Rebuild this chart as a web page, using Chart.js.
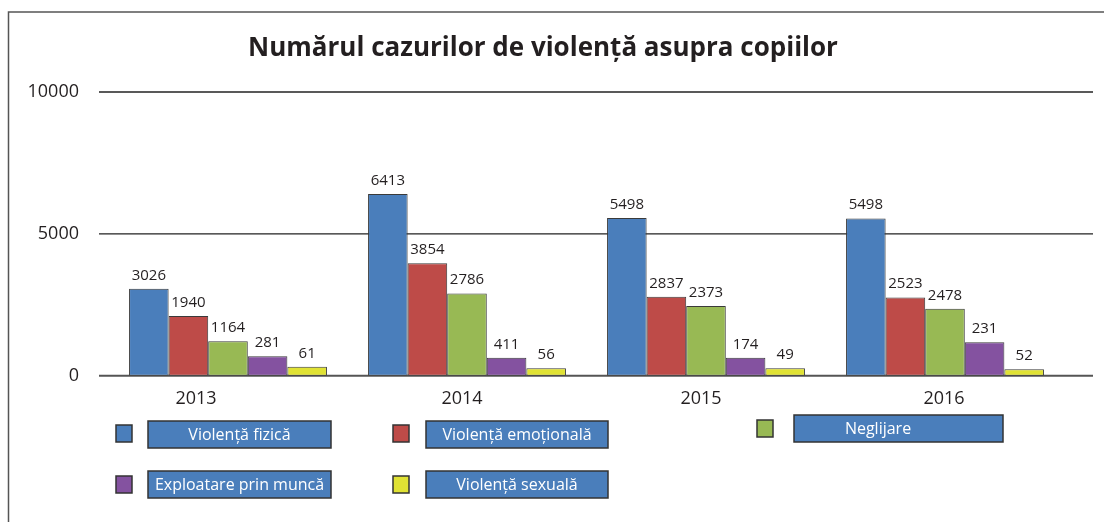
<!DOCTYPE html>
<html>
<head>
<meta charset="utf-8">
<script src="https://cdn.jsdelivr.net/npm/chart.js@4"></script>
<style>
  body { margin: 0; background: #fff; }
</style>
</head>
<body>
<canvas id="chart" width="1104" height="522"></canvas>
<script>
var years = ["2013", "2014", "2015", "2016"];
var seriesNames = ["Violență fizică", "Violență emoțională", "Neglijare", "Exploatare prin muncă", "Violență sexuală"];

// bar heights as drawn in the picture
var fizica = [3063, 6408, 5563, 5542];
var emotionala = [2102, 3968, 2782, 2760];
var neglijare = [1211, 2901, 2454, 2359];
var exploatare = [683, 634, 634, 1176];
var sexuala = [317, 261, 261, 225];

// numbers printed above the bars
var fizicaText = ["3026", "6413", "5498", "5498"];
var emotionalaText = ["1940", "3854", "2837", "2523"];
var neglijareText = ["1164", "2786", "2373", "2478"];
var exploatareText = ["281", "411", "174", "231"];
var sexualaText = ["61", "56", "49", "52"];

var yTicks = [0, 5000, 10000];

var colors = ["#4A7EBB", "#BE4B48", "#98B954", "#8452A0", "#E0E234"];
var FONT = '"Open Sans", "Noto Sans", sans-serif';

function ds(i, values, texts) {
  return {
    label: seriesNames[i],
    data: values,
    texts: texts,
    backgroundColor: colors[i],
    borderColor: "#3a3a3a",
    borderWidth: 1,
    borderSkipped: false,
    categoryPercentage: 0.828,
    barPercentage: 1.0
  };
}

// frame, title and gridlines behind the bars
var backdrop = {
  id: "backdrop",
  beforeDatasetsDraw: function (chart) {
    var c = chart.ctx, a = chart.chartArea, y = chart.scales.y;
    c.save();
    c.strokeStyle = "#555";
    c.lineWidth = 1.5;
    c.beginPath();
    c.moveTo(8.5, 522);
    c.lineTo(8.5, 12);
    c.lineTo(1104, 12);
    c.stroke();

    c.fillStyle = "#231f20";
    c.font = "bold 26px " + FONT;
    c.textAlign = "center";
    c.textBaseline = "alphabetic";
    c.fillText("Numărul cazurilor de violență asupra copiilor", 543, 56);

    yTicks.forEach(function (v) {
      var py = y.getPixelForValue(v);
      c.beginPath();
      c.strokeStyle = v === 0 ? "#555" : "#222";
      c.lineWidth = v === 0 ? 2 : 1.3;
      c.moveTo(a.left - 9.5, py);
      c.lineTo(a.right + 28.5, py);
      c.stroke();
    });
    c.restore();
  }
};

// value labels, year labels and the boxed legend
var overlay = {
  id: "overlay",
  afterDatasetsDraw: function (chart) {
    var c = chart.ctx, x = chart.scales.x;
    c.save();
    c.fillStyle = "#231f20";
    c.textAlign = "center";
    c.textBaseline = "alphabetic";
    c.font = "15px " + FONT;
    chart.data.datasets.forEach(function (d, i) {
      chart.getDatasetMeta(i).data.forEach(function (bar, j) {
        c.fillText(d.texts[j], bar.x, bar.y - 9);
      });
    });

    var shift = [-32, -5, -5, -1];
    c.font = "18px " + FONT;
    years.forEach(function (yr, j) {
      c.fillText(yr, x.getPixelForValue(j) + shift[j], 404);
    });

    var spots = [
      { sx: 116, sy: 425, bx: 148, by: 421, bw: 183 },
      { sx: 393, sy: 425, bx: 426, by: 421, bw: 182 },
      { sx: 757, sy: 420, bx: 794, by: 415, bw: 209, tx: 878 },
      { sx: 116, sy: 476, bx: 148, by: 471, bw: 183 },
      { sx: 393, sy: 476, bx: 426, by: 471, bw: 182 }
    ];
    c.lineWidth = 1.5;
    c.strokeStyle = "#333";
    c.font = "16px " + FONT;
    c.textBaseline = "middle";
    chart.data.datasets.forEach(function (d, i) {
      var s = spots[i];
      c.fillStyle = d.backgroundColor;
      c.fillRect(s.sx, s.sy, 16, 17);
      c.strokeRect(s.sx, s.sy, 16, 17);
      c.fillStyle = "#4A7EBB";
      c.fillRect(s.bx, s.by, s.bw, 27);
      c.strokeRect(s.bx, s.by, s.bw, 27);
      c.fillStyle = "#fff";
      c.fillText(d.label, s.tx || s.bx + s.bw / 2, s.by + 14);
    });
    c.restore();
  }
};

var ctx = document.getElementById("chart").getContext("2d");

var myChart = new Chart(ctx, {
  type: "bar",
  data: {
    labels: years,
    datasets: [
      ds(0, fizica, fizicaText),
      ds(1, emotionala, emotionalaText),
      ds(2, neglijare, neglijareText),
      ds(3, exploatare, exploatareText),
      ds(4, sexuala, sexualaText)
    ]
  },
  options: {
    responsive: false,
    animation: false,
    layout: {
      padding: { top: 92, right: 39.5, left: 0, bottom: 0 }
    },
    plugins: {
      legend: { display: false },
      title: { display: false },
      tooltip: { enabled: false }
    },
    scales: {
      x: {
        grid: { display: false, drawTicks: false },
        border: { display: false },
        ticks: { display: false },
        afterFit: function (scale) { scale.height = 146.3; }
      },
      y: {
        min: 0,
        max: 10000,
        grid: { display: false, drawTicks: false },
        border: { display: false },
        ticks: {
          stepSize: 5000,
          padding: 29.5,
          color: "#231f20",
          font: { family: FONT, size: 18 },
          callback: function (value) { return String(value); }
        },
        afterFit: function (scale) { scale.width = 108.5; }
      }
    }
  },
  plugins: [backdrop, overlay]
});
</script>
</body>
</html>
